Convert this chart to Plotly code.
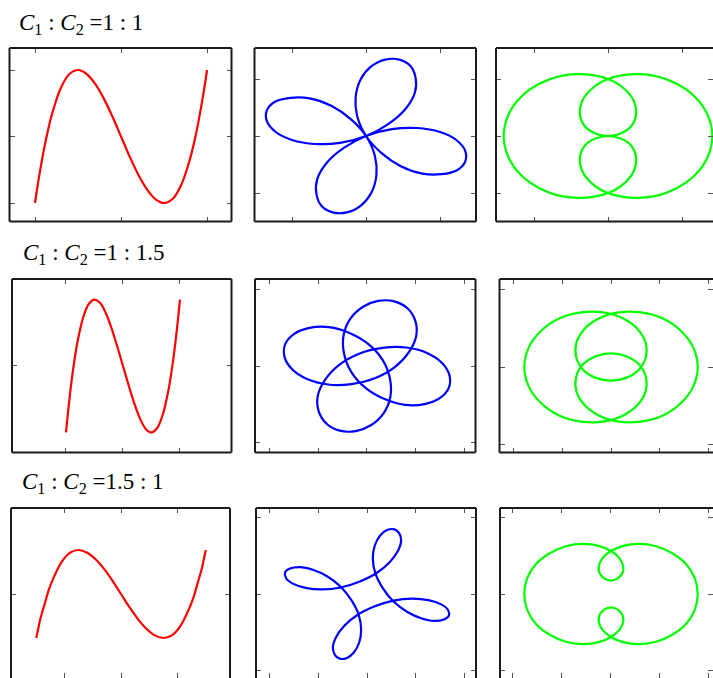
import plotly.graph_objects as go

W, H = 713, 678

# ---------------- data ----------------
# column 1: open curves (red)
c1_r1_x = [-1, -0.98, -0.95, -0.9, -0.85, -0.8, -0.7, -0.6, -0.5, -0.4, -0.3, -0.2, -0.1, 0,
           0.1, 0.2, 0.3, 0.4, 0.5, 0.6, 0.7, 0.8, 0.85, 0.9, 0.95, 0.98, 1]
c1_r1_y = [-1, -0.82, -0.58, -0.22, 0.09, 0.35, 0.73, 0.94, 1.0, 0.94, 0.79, 0.57, 0.30, 0,
           -0.30, -0.57, -0.79, -0.94, -1.0, -0.94, -0.73, -0.35, -0.09, 0.22, 0.58, 0.82, 1]
c1_r2_x = c1_r1_x
c1_r2_y = [-1.5, -1.24, -0.87, -0.32, 0.14, 0.53, 1.09, 1.40, 1.5, 1.42, 1.19, 0.85, 0.44, 0,
           -0.44, -0.85, -1.19, -1.42, -1.5, -1.40, -1.09, -0.53, -0.14, 0.32, 0.87, 1.24, 1.5]
c1_r3_x = [-1.5, -1.47, -1.43, -1.35, -1.28, -1.2, -1.05, -0.9, -0.75, -0.6, -0.45, -0.3, -0.15, 0,
           0.15, 0.3, 0.45, 0.6, 0.75, 0.9, 1.05, 1.2, 1.28, 1.35, 1.43, 1.47, 1.5]
c1_r3_y = c1_r1_y

# column 2: four-lobed closed curves (blue)
c2_r1_x = [1.34, 1.23, 1.02, 0.76, 0.47, 0.21, 0, -0.12, -0.14, -0.07, 0.07, 0.26, 0.45,
           0.60, 0.67, 0.66, 0.53, 0.30, 0, -0.35, -0.69, -1.00, -1.22, -1.34, -1.34,
           -1.23, -1.02, -0.76, -0.47, -0.21, 0, 0.12, 0.14, 0.07, -0.07, -0.26, -0.45,
           -0.60, -0.67, -0.66, -0.53, -0.30, 0, 0.35, 0.69, 1.00, 1.22, 1.34, 1.34]
c2_r1_y = [-0.45, -0.60, -0.67, -0.66, -0.53, -0.30, 0, 0.35, 0.69, 1.00, 1.22, 1.34, 1.34,
           1.23, 1.02, 0.76, 0.47, 0.21, 0, -0.12, -0.14, -0.07, 0.07, 0.26, 0.45,
           0.60, 0.67, 0.66, 0.53, 0.30, 0, -0.35, -0.69, -1.00, -1.22, -1.34, -1.34,
           -1.23, -1.02, -0.76, -0.47, -0.21, 0, 0.12, 0.14, 0.07, -0.07, -0.26, -0.45]
c2_r2_x = [1.68, 1.50, 1.18, 0.78, 0.36, -0.03, -0.32, -0.47, -0.48, -0.34, -0.08, 0.23, 0.56,
           0.83, 0.99, 1.01, 0.86, 0.57, 0.16, -0.32, -0.80, -1.23, -1.54, -1.69, -1.68,
           -1.50, -1.18, -0.78, -0.36, 0.03, 0.32, 0.47, 0.48, 0.34, 0.08, -0.23, -0.56,
           -0.83, -0.99, -1.01, -0.86, -0.57, -0.16, 0.32, 0.80, 1.23, 1.54, 1.69, 1.68]
c2_r2_y = [-0.56, -0.83, -0.99, -1.01, -0.86, -0.57, -0.16, 0.32, 0.80, 1.23, 1.54, 1.69, 1.68,
           1.50, 1.18, 0.78, 0.36, -0.03, -0.32, -0.47, -0.48, -0.34, -0.08, 0.23, 0.56,
           0.83, 0.99, 1.01, 0.86, 0.57, 0.16, -0.32, -0.80, -1.23, -1.54, -1.69, -1.68,
           -1.50, -1.18, -0.78, -0.36, 0.03, 0.32, 0.47, 0.48, 0.34, 0.08, -0.23, -0.56]
c2_r3_x = [1.68, 1.58, 1.38, 1.11, 0.82, 0.54, 0.32, 0.17, 0.12, 0.16, 0.27, 0.41, 0.56,
           0.66, 0.70, 0.63, 0.46, 0.19, -0.16, -0.54, -0.93, -1.26, -1.52, -1.66, -1.68,
           -1.58, -1.38, -1.11, -0.82, -0.54, -0.32, -0.17, -0.12, -0.16, -0.27, -0.41, -0.56,
           -0.66, -0.70, -0.63, -0.46, -0.19, 0.16, 0.54, 0.93, 1.26, 1.52, 1.66, 1.68]
c2_r3_y = [-0.56, -0.66, -0.70, -0.63, -0.46, -0.19, 0.16, 0.54, 0.93, 1.26, 1.52, 1.66, 1.68,
           1.58, 1.38, 1.11, 0.82, 0.54, 0.32, 0.17, 0.12, 0.16, 0.27, 0.41, 0.56,
           0.66, 0.70, 0.63, 0.46, 0.19, -0.16, -0.54, -0.93, -1.26, -1.52, -1.66, -1.68,
           -1.58, -1.38, -1.11, -0.82, -0.54, -0.32, -0.17, -0.12, -0.16, -0.27, -0.41, -0.56]

# column 3: double-oval closed curves (green)
c3_r1_x = [1.41, 1.35, 1.18, 0.92, 0.61, 0.29, 0, -0.22, -0.35, -0.38, -0.32, -0.18, 0,
           0.18, 0.32, 0.38, 0.35, 0.22, 0, -0.29, -0.61, -0.92, -1.18, -1.35, -1.41,
           -1.35, -1.18, -0.92, -0.61, -0.29, 0, 0.22, 0.35, 0.38, 0.32, 0.18, 0,
           -0.18, -0.32, -0.38, -0.35, -0.22, 0, 0.29, 0.61, 0.92, 1.18, 1.35, 1.41]
c3_r1_y = [0, 0.36, 0.68, 0.92, 1.06, 1.08, 1.0, 0.83, 0.61, 0.38, 0.18, 0.05, 0,
           0.05, 0.18, 0.38, 0.61, 0.83, 1.0, 1.08, 1.06, 0.92, 0.68, 0.36, 0,
           -0.36, -0.68, -0.92, -1.06, -1.08, -1.0, -0.83, -0.61, -0.38, -0.18, -0.05, 0,
           -0.05, -0.18, -0.38, -0.61, -0.83, -1.0, -1.08, -1.06, -0.92, -0.68, -0.36, 0]
c3_r2_x = [1.77, 1.68, 1.43, 1.06, 0.61, 0.16, -0.25, -0.55, -0.71, -0.71, -0.57, -0.31, 0,
           0.31, 0.57, 0.71, 0.71, 0.55, 0.25, -0.16, -0.61, -1.06, -1.43, -1.68, -1.77,
           -1.68, -1.43, -1.06, -0.61, -0.16, 0.25, 0.55, 0.71, 0.71, 0.57, 0.31, 0,
           -0.31, -0.57, -0.71, -0.71, -0.55, -0.25, 0.16, 0.61, 1.06, 1.43, 1.68, 1.77]
c3_r2_y = [0, 0.50, 0.93, 1.25, 1.41, 1.41, 1.25, 0.97, 0.61, 0.25, -0.07, -0.28, -0.35,
           -0.28, -0.07, 0.25, 0.61, 0.97, 1.25, 1.41, 1.41, 1.25, 0.93, 0.50, 0,
           -0.50, -0.93, -1.25, -1.41, -1.41, -1.25, -0.97, -0.61, -0.25, 0.07, 0.28, 0.35,
           0.28, 0.07, -0.25, -0.61, -0.97, -1.25, -1.41, -1.41, -1.25, -0.93, -0.50, 0]
c3_r3_x = [1.77, 1.71, 1.53, 1.25, 0.92, 0.57, 0.25, -0.01, -0.18, -0.25, -0.23, -0.13, 0,
           0.13, 0.23, 0.25, 0.18, 0.01, -0.25, -0.57, -0.92, -1.25, -1.53, -1.71, -1.77,
           -1.71, -1.53, -1.25, -0.92, -0.57, -0.25, 0.01, 0.18, 0.25, 0.23, 0.13, 0,
           -0.13, -0.23, -0.25, -0.18, -0.01, 0.25, 0.57, 0.92, 1.25, 1.53, 1.71, 1.77]
c3_r3_y = [0, 0.41, 0.78, 1.06, 1.24, 1.30, 1.25, 1.11, 0.92, 0.71, 0.53, 0.40, 0.35,
           0.40, 0.53, 0.71, 0.92, 1.11, 1.25, 1.30, 1.24, 1.06, 0.78, 0.41, 0,
           -0.41, -0.78, -1.06, -1.24, -1.30, -1.25, -1.11, -0.92, -0.71, -0.53, -0.40, -0.35,
           -0.40, -0.53, -0.71, -0.92, -1.11, -1.25, -1.30, -1.24, -1.06, -0.78, -0.41, 0]

row_labels = ["1 : 1", "1 : 1.5", "1.5 : 1"]

# ---------------- layout helpers ----------------
# panel frames in pixels: (left, right, top, bottom)
frames = [
    [(9.5, 231.5, 48, 221.5), (254.5, 476, 48, 221.5), (496, 713, 48, 221.5)],
    [(12, 231.5, 279, 452.5), (255, 475.5, 279, 452.5), (499.5, 713, 279, 452.5)],
    [(11, 230, 508, 678), (256, 476, 508, 678), (500, 713, 508, 678)],
]
xranges = [
    [(-1.297, 1.285), (-1.507, 1.486), (-1.514, 1.419)],
    [(-1.947, 1.904), (-2.297, 2.226), (-2.276, 2.082)],
    [(-1.947, 1.929), (-2.277, 2.236), (-2.265, 2.082)],
]
yranges = [
    [(-1.278, 1.331), (-1.50, 1.544), (-1.50, 1.544)],
    [(-1.953, 1.964), (-2.247, 2.26), (-2.206, 2.271)],
    [(-1.909, 1.955), (-2.182, 2.234), (-2.182, 2.234)],
]
xticks = [
    [[-1, 0, 1], [-1, 0, 1], [-1, 0, 1]],
    [[-1, 0, 1], [-2, -1, 0, 1, 2], [-2, -1, 0, 1, 2]],
    [[-1, 0, 1], [-2, -1, 0, 1, 2], [-2, -1, 0, 1, 2]],
]
yticks = [
    [[-1, 0, 1], [-1, 0, 1], [-1, 0, 1]],
    [[-2, 0, 2], [-2, 0, 2], [-2, 0, 2]],
    [[-2, 0, 2], [-2, 0, 2], [-2, 0, 2]],
]
curves = [
    [(c1_r1_x, c1_r1_y), (c2_r1_x, c2_r1_y), (c3_r1_x, c3_r1_y)],
    [(c1_r2_x, c1_r2_y), (c2_r2_x, c2_r2_y), (c3_r2_x, c3_r2_y)],
    [(c1_r3_x, c1_r3_y), (c2_r3_x, c2_r3_y), (c3_r3_x, c3_r3_y)],
]
colors = ["#ff0000", "#0000ff", "#00ff00"]

fig = go.Figure()
layout = dict(
    width=W, height=H,
    margin=dict(l=0, r=0, t=0, b=0),
    paper_bgcolor="white", plot_bgcolor="white",
    showlegend=False,
)
shapes = []
axis_common = dict(
    showgrid=False, zeroline=False, showline=False, showticklabels=False,
    ticks="inside", ticklen=5, tickwidth=1, tickcolor="#555555", mirror="ticks",
    fixedrange=True,
)

k = 0
for r in range(3):
    for c in range(3):
        k += 1
        sfx = "" if k == 1 else str(k)
        L, R, T, B = frames[r][c]
        layout["xaxis" + sfx] = dict(
            axis_common, domain=[L / W, R / W], range=list(xranges[r][c]),
            tickvals=xticks[r][c], anchor="y" + sfx,
        )
        layout["yaxis" + sfx] = dict(
            axis_common, domain=[1 - B / H, 1 - T / H], range=list(yranges[r][c]),
            tickvals=yticks[r][c], anchor="x" + sfx,
        )
        xs, ys = curves[r][c]
        fig.add_trace(go.Scatter(
            x=xs, y=ys, mode="lines", xaxis="x" + sfx, yaxis="y" + sfx,
            line=dict(color=colors[c], width=2.2, shape="spline", smoothing=1.0),
            hoverinfo="skip",
        ))
        # frame edges: right edge of the last column and bottom edge of the
        # last row fall outside the canvas
        xr, yr = "x" + sfx + " domain", "y" + sfx + " domain"
        sides = [(0, 0, 0, 1), (0, 1, 1, 1)]
        if c < 2:
            sides.append((1, 0, 1, 1))
        if r < 2:
            sides.append((0, 0, 1, 0))
        for x0, y0, x1, y1 in sides:
            shapes.append(dict(type="line", xref=xr, yref=yr, x0=x0, y0=y0, x1=x1, y1=y1,
                               line=dict(color="#1a1a1a", width=2), layer="above"))

layout["shapes"] = shapes

label_pos = [(17, 24), (21, 254), (20, 483)]
annotations = []
for (px, py), txt in zip(label_pos, row_labels):
    annotations.append(dict(
        xref="paper", yref="paper", x=px / W, y=1 - py / H,
        xanchor="left", yanchor="middle", showarrow=False,
        text="<i>C</i><sub>1</sub> : <i>C</i><sub>2</sub> =" + txt,
        font=dict(family="Liberation Serif, Times New Roman, serif", size=23, color="black"),
    ))
layout["annotations"] = annotations

fig.update_layout(**layout)
fig.write_html("out.html")
